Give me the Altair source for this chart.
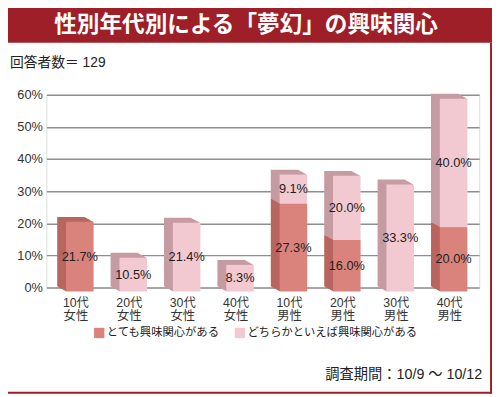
import altair as alt
import pandas as pd

# ---- data ----
categories = ["10代女性", "20代女性", "30代女性", "40代女性", "10代男性", "20代男性", "30代男性", "40代男性"]
series_names = ["とても興味関心がある", "どちらかといえば興味関心がある"]
very_interested = [21.7, 0, 0, 0, 27.3, 16.0, 0, 20.0]
somewhat_interested = [0, 10.5, 21.4, 8.3, 9.1, 20.0, 33.3, 40.0]
y_ticks = [0, 10, 20, 30, 40, 50, 60]

title_text = "性別年代別による「夢幻」の興味関心"
subtitle_text = "回答者数＝ 129"
footer_text = "調査期間：10/9 ～ 10/12"

front_colors = ["#d9837c", "#f2c9d1"]
side_colors = ["#b9665f", "#c69ba3"]
frame_red = "#9e1f28"

rows = []
for i, c in enumerate(categories):
    rows.append({"cat": c, "series": series_names[0], "ord": 0, "value": very_interested[i]})
    rows.append({"cat": c, "series": series_names[1], "ord": 1, "value": somewhat_interested[i]})
df = pd.DataFrame(rows)

FONT = "Liberation Sans, Noto Sans CJK JP"

x_axis = alt.Axis(
    title=None, labelAngle=0, domain=False, ticks=False,
    labelExpr="[substring(datum.label,0,3), substring(datum.label,3)]",
    labelFontSize=12.5, labelLineHeight=13.5, labelColor="#333",
    labelPadding=9, labelFont=FONT, labelOverlap=False,
)
x_scale = alt.Scale(paddingInner=0, paddingOuter=0.053)
y_axis = alt.Axis(
    title=None, values=y_ticks, labelExpr="datum.value + '%'",
    domain=False, ticks=False, grid=True, gridColor="#8f8f8f", gridWidth=1.5,
    labelFontSize=13, labelColor="#333", labelPadding=4, labelFont=FONT,
)
y_scale = alt.Scale(domain=[0, 60], nice=False)

x_enc = alt.X("cat:N", sort=categories, scale=x_scale, axis=x_axis)
y_enc = alt.Y("value:Q", stack=True, scale=y_scale, axis=y_axis)

base = alt.Chart(df)

# extrusion (3D side/top faces), from back to front
N = 9
layers = []
for k in range(N, 0, -1):
    dx = 4 - 9 * k / N
    dy = 4 - 5 * k / N
    layers.append(
        base.mark_bar(size=28, xOffset=dx, yOffset=dy, y2Offset=dy).encode(
            x=x_enc,
            y=y_enc,
            detail="series:N",
            order=alt.Order("ord:Q"),
            color=alt.condition("datum.ord == 0", alt.value(side_colors[0]), alt.value(side_colors[1])),
        )
    )

front = base.mark_bar(size=28, xOffset=4, yOffset=4, y2Offset=4).encode(
    x=x_enc,
    y=y_enc,
    order=alt.Order("ord:Q"),
    color=alt.Color(
        "series:N",
        scale=alt.Scale(domain=series_names, range=front_colors),
        legend=alt.Legend(
            title=None, orient="none", legendX=48, legendY=236, direction="horizontal",
            symbolType="square", symbolSize=110, symbolStrokeWidth=0, symbolOpacity=1,
            labelFontSize=11.5, labelFont=FONT, labelColor="#222", labelOffset=2,
            labelLimit=400, columnPadding=14, padding=0,
        ),
    ),
)
layers.append(front)

labels = base.transform_stack(
    stack="value", groupby=["cat"], sort=[alt.SortField("ord")], as_=["y0", "y1"]
).transform_calculate(
    mid="(datum.y0 + datum.y1) / 2",
    lbl="format(datum.value, '.1f') + '%'",
).transform_filter(
    "datum.value > 0"
).mark_text(xOffset=4, yOffset=4, fontSize=13, font=FONT, color="#222").encode(
    x=alt.X("cat:N", sort=categories, scale=x_scale, axis=x_axis),
    y=alt.Y("mid:Q", scale=y_scale, axis=y_axis),
    text="lbl:N",
)
layers.append(labels)

one = pd.DataFrame({"t": [title_text]})
title_bar = alt.Chart(one).mark_rect(color=frame_red).encode(
    x=alt.value(-47), x2=alt.value(453), y=alt.value(-93), y2=alt.value(-53)
)
right_border = alt.Chart(one).mark_rect(color=frame_red).encode(
    x=alt.value(451), x2=alt.value(453), y=alt.value(-53), y2=alt.value(304)
)
bottom_border = alt.Chart(one).mark_rect(color=frame_red).encode(
    x=alt.value(-47), x2=alt.value(453), y=alt.value(302), y2=alt.value(304)
)
title = alt.Chart(one).mark_text(
    font="Noto Sans CJK JP", fontWeight="bold", fontSize=23, color="white",
    align="center", baseline="middle",
).encode(x=alt.value(203), y=alt.value(-71), text="t:N")
subtitle = alt.Chart(pd.DataFrame({"t": [subtitle_text]})).mark_text(
    font=FONT, fontSize=14, color="#222", align="left", baseline="middle",
).encode(x=alt.value(-37), y=alt.value(-32), text="t:N")
footer = alt.Chart(pd.DataFrame({"t": [footer_text]})).mark_text(
    font=FONT, fontSize=14.5, color="#222", align="right", baseline="middle",
).encode(x=alt.value(443), y=alt.value(285), text="t:N")

chart = alt.layer(
    title_bar, right_border, bottom_border, title, subtitle, footer, *layers
).properties(
    width=440, height=196,
    autosize=alt.AutoSizeParams(type="none"),
    padding={"left": 39, "top": 85, "right": 13, "bottom": 108},
).configure_view(stroke=None).configure(background="white")

chart.save("out.html", embed_options={"renderer": "svg", "actions": False})
